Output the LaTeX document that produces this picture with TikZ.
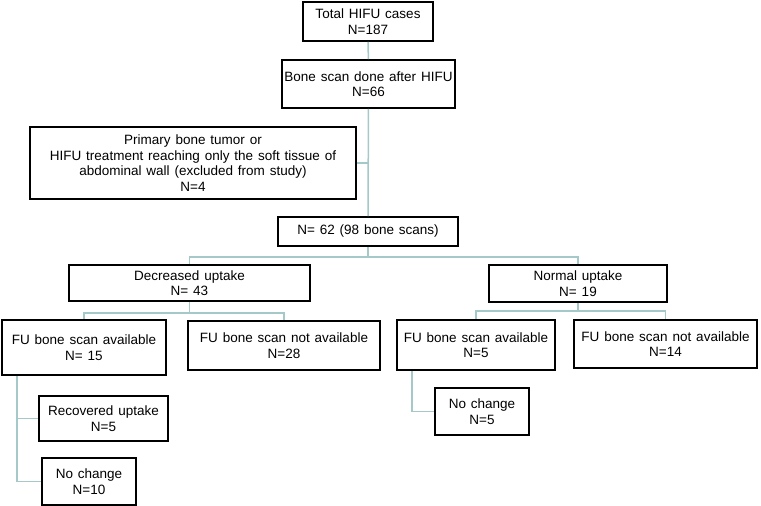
\documentclass[tikz,border=0pt]{standalone}
\usepackage{fontspec}
\setmainfont[WordSpace=1.3]{Liberation Sans}
\usetikzlibrary{positioning}
\definecolor{linkcol}{RGB}{165,200,200}

\begin{document}
\begin{tikzpicture}[
		x=1pt,y=-1pt,
		box/.style={draw,line width=1.9pt,align=center,inner sep=0pt,font=\fontsize{13.5}{15.5}\selectfont},
		link/.style={draw=linkcol,line width=1.5pt}
		]
		\useasboundingbox (0,0) rectangle (761,506);
		\node[box,minimum width=130,minimum height=39] (total) at (368,21.5) {Total HIFU cases\\N=187};
		\node[box,minimum width=173,minimum height=48] (bonescan) at (368.5,84) {Bone scan done after HIFU\\N=66};
		\node[box,minimum width=326,minimum height=72] (excluded) at (193,163)
		{Primary bone tumor or\\HIFU treatment reaching only the soft tissue of\\abdominal wall (excluded from study)\\N=4};
		\node[box,minimum width=180,minimum height=29] (scans) at (368,231.5) {N= 62 (98 bone scans)};
		\node[box,minimum width=241,minimum height=36] (decreased) at (189.5,283) {Decreased uptake\\N= 43};
		\node[box,minimum width=178,minimum height=37] (normal) at (578,283.5) {Normal uptake\\N= 19};
		\node[box,minimum width=164,minimum height=55] (decavail) at (84,347.5) {FU bone scan available\\N= 15};
		\node[box,minimum width=192,minimum height=49] (decnot) at (284,345.5) {FU bone scan not available\\N=28};
		\node[box,minimum width=158,minimum height=50] (noravail) at (476,345) {FU bone scan available\\N=5};
		\node[box,minimum width=183,minimum height=48] (nornot) at (665.5,344) {FU bone scan not available\\N=14};
		\node[box,minimum width=129,minimum height=45] (recovered) at (103.5,418.5) {Recovered uptake\\N=5};
		\node[box,minimum width=94,minimum height=47] (nochangeA) at (89,481.5) {No change\\N=10};
		\node[box,minimum width=94,minimum height=47] (nochangeB) at (482,411.5) {No change\\N=5};
		\path[link]
		(total) edge (bonescan)
		(bonescan) edge (scans);
		\draw[link] (excluded.east) -- (excluded.east -| bonescan.south);
		\draw[link] (scans.south) -- ++(0,10) -| (decreased.north);
		\draw[link] (scans.south) -- ++(0,10) -| (normal.north);
		\draw[link] (decreased.south) -- ++(0,11) -| (decavail.north);
		\draw[link] (decreased.south) -- ++(0,11) -| (decnot.north);
		\draw[link] (normal.south) -- ++(0,8) -| (noravail.north);
		\draw[link] (normal.south) -- ++(0,8) -| (nornot.north);
		\draw[link] ([xshift=16]decavail.south west) |- (recovered.west);
		\draw[link] ([xshift=16]decavail.south west) |- (nochangeA.west);
		\draw[link] ([xshift=16]noravail.south west) |- (nochangeB.west);
	\end{tikzpicture}
\end{document}
